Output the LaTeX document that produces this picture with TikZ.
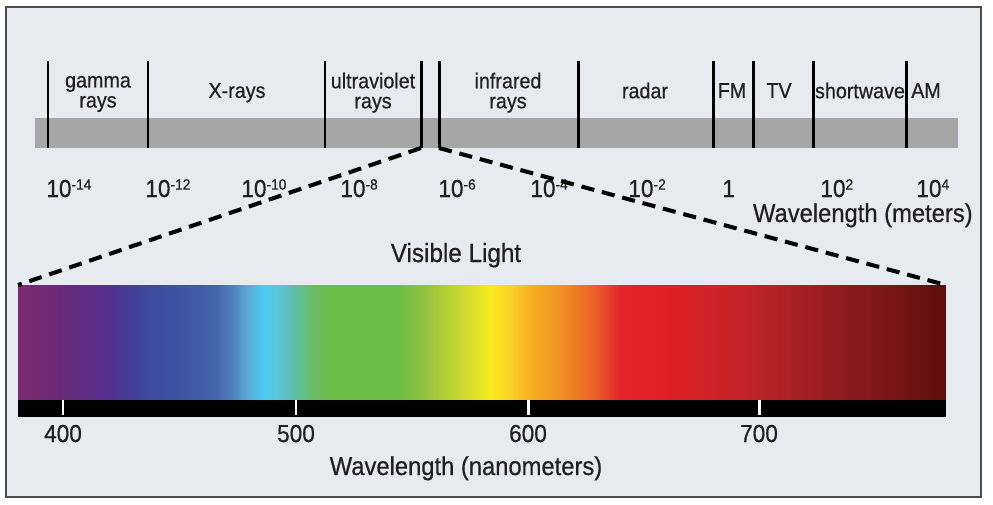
\documentclass[tikz,border=0pt]{standalone}
\usepackage{fontspec}
\setmainfont{Liberation Sans}[FakeStretch=0.92, FakeBold=0.5]

% colours of the chart
\definecolor{framebg}{HTML}{E7EBF1}
\definecolor{frameline}{HTML}{4D4D4D}
\definecolor{bandgray}{HTML}{A6A6A6}
\definecolor{labeltext}{HTML}{231F20}

% colour stops of the visible band (left to right)
\definecolor{vs00}{HTML}{7A2A72}
\definecolor{vs01}{HTML}{712A75}
\definecolor{vs02}{HTML}{55308F}
\definecolor{vs03}{HTML}{483A96}
\definecolor{vs04}{HTML}{3E4A9E}
\definecolor{vs05}{HTML}{3C55A3}
\definecolor{vs06}{HTML}{4563AA}
\definecolor{vs07}{HTML}{4F80BE}
\definecolor{vs08}{HTML}{5AAAD8}
\definecolor{vs09}{HTML}{4CC8F0}
\definecolor{vs10}{HTML}{55C8E0}
\definecolor{vs11}{HTML}{5FBDB0}
\definecolor{vs12}{HTML}{6BBC5F}
\definecolor{vs13}{HTML}{6BBD45}
\definecolor{vs14}{HTML}{6CBD45}
\definecolor{vs15}{HTML}{8FC23F}
\definecolor{vs16}{HTML}{C3D530}
\definecolor{vs17}{HTML}{F7EC1E}
\definecolor{vs18}{HTML}{FAD624}
\definecolor{vs19}{HTML}{F8B022}
\definecolor{vs20}{HTML}{F18E23}
\definecolor{vs21}{HTML}{EA5A28}
\definecolor{vs22}{HTML}{E4252A}
\definecolor{vs23}{HTML}{E21F26}
\definecolor{vs24}{HTML}{C02428}
\definecolor{vs25}{HTML}{9B1E22}
\definecolor{vs26}{HTML}{7D1618}
\definecolor{vs27}{HTML}{5E0E0C}

\pgfdeclarehorizontalshading{visiblespec}{100bp}{%
  color(0bp)=(vs00); color(25bp)=(vs00); color(26.6bp)=(vs01);
  color(29.85bp)=(vs02); color(30.75bp)=(vs03); color(32bp)=(vs04);
  color(33.85bp)=(vs05); color(35.6bp)=(vs06); color(36.55bp)=(vs07);
  color(37.4bp)=(vs08); color(38.15bp)=(vs09); color(38.85bp)=(vs10);
  color(39.75bp)=(vs11); color(41bp)=(vs12); color(41.9bp)=(vs13);
  color(45.4bp)=(vs14); color(46.8bp)=(vs15); color(48.65bp)=(vs16);
  color(50.45bp)=(vs17); color(51.35bp)=(vs18); color(52.6bp)=(vs19);
  color(54.35bp)=(vs20); color(56.2bp)=(vs21); color(57.45bp)=(vs22);
  color(59.6bp)=(vs23); color(64.45bp)=(vs24); color(68.05bp)=(vs25);
  color(71.6bp)=(vs26); color(75bp)=(vs27); color(100bp)=(vs27)}

% small raised exponent, top level with the digits
\newcommand{\tenexp}[1]{\raisebox{4.2pt}{\fontsize{8.5}{9}\selectfont #1}}

\begin{document}
\begin{tikzpicture}[x=0.02cm,y=-0.02cm,
    divider/.style={line width=1.7pt, draw=black},
    zoomline/.style={line width=2.3pt, dash pattern=on 7.5pt off 4.5pt},
    bandlabel/.style={font=\fontsize{12.2}{11.4}\selectfont, align=center, inner sep=0pt, text=labeltext},
    exponent/.style={font=\fontsize{14}{15}\selectfont, anchor=base west, inner sep=0pt, text=labeltext},
    nmlabel/.style={font=\fontsize{14}{15}\selectfont, anchor=base, inner sep=0pt, text=labeltext},
    axistitle/.style={font=\fontsize{14.7}{16}\selectfont, inner sep=0pt, text=labeltext},
    spectrum/.style={minimum width=18.56cm, minimum height=2.3cm, inner sep=0pt, outer sep=0pt, shade, shading=visiblespec}]
  \useasboundingbox (0,0) rectangle (993,504);

  % Frame and background
  \draw[fill=framebg, draw=frameline, line width=0.6pt] (6,7) rectangle (981,497);

  % Grey band of the whole spectrum
  \fill[bandgray] (35,118) rectangle (958,148);

  % Dividers between the bands
  \foreach \xd/\nm in {48/d1,148/d2,325/d3,421/d4,439/d5,578/d6,713/d7,753/d8,813/d9,906/d10} {
    \coordinate (\nm-top) at (\xd,61);
    \coordinate (\nm-bot) at (\xd,148);
    \draw[divider] (\nm-top) -- (\nm-bot);
  }

  % Names of the bands
  \node[bandlabel] (gamma) at (98,93.5) {gamma\strut\\rays\strut};
  \node[bandlabel] (xrays) at (237,93.5) {X-rays\strut};
  \node[bandlabel] (uv) at (373,93.5) {ultraviolet\strut\\rays\strut};
  \node[bandlabel] (ir) at (508,93.5) {infrared\strut\\rays\strut};
  \node[bandlabel] (radar) at (645,93.5) {radar\strut};
  \node[bandlabel] (fm) at (732,93.5) {FM\strut};
  \node[bandlabel] (tv) at (779,93.5) {TV\strut};
  \node[bandlabel] (sw) at (860,93.5) {shortwave\strut};
  \node[bandlabel] (am) at (926,93.5) {AM\strut};

  % Powers of ten
  \node[exponent] (e14) at (46,197) {10\tenexp{-14}};
  \node[exponent] (e12) at (145,197) {10\tenexp{-12}};
  \node[exponent] (e10) at (241,197) {10\tenexp{-10}};
  \node[exponent] (e8) at (340,197) {10\tenexp{-8}};
  \node[exponent] (e6) at (438,197) {10\tenexp{-6}};
  \node[exponent] (e4) at (530,197) {10\tenexp{-4}};
  \node[exponent] (e2) at (628,197) {10\tenexp{-2}};
  \node[exponent] (e0) at (722,197) {1};
  \node[exponent] (p2) at (820,197) {10\tenexp{2}};
  \node[exponent] (p4) at (916,197) {10\tenexp{4}};
  \node[axistitle, anchor=base east] (meters) at (973,222) {Wavelength (meters)};

  % Visible band
  \node[axistitle, font=\fontsize{15}{16}\selectfont, anchor=base] (vislabel) at (456,262) {Visible Light};
  \node[spectrum] (vis) at (482,342.5) {};
  \fill[black] (18,400) rectangle (946,417);
  \foreach \xt/\lbl in {63/400,296/500,528/600,759/700} {
    \draw[white, line width=1.7pt] (\xt,400) -- (\xt,415);
    \node[nmlabel] (nm\lbl) at (\xt,442) {\lbl};
  }
  \node[axistitle, anchor=base] (nanometers) at (466,475) {Wavelength (nanometers)};

  % Zoom lines to the visible band
  \draw[zoomline] (d4-bot) -- (vis.north west);
  \draw[zoomline] (d5-bot) -- (vis.north east);
\end{tikzpicture}
\end{document}
